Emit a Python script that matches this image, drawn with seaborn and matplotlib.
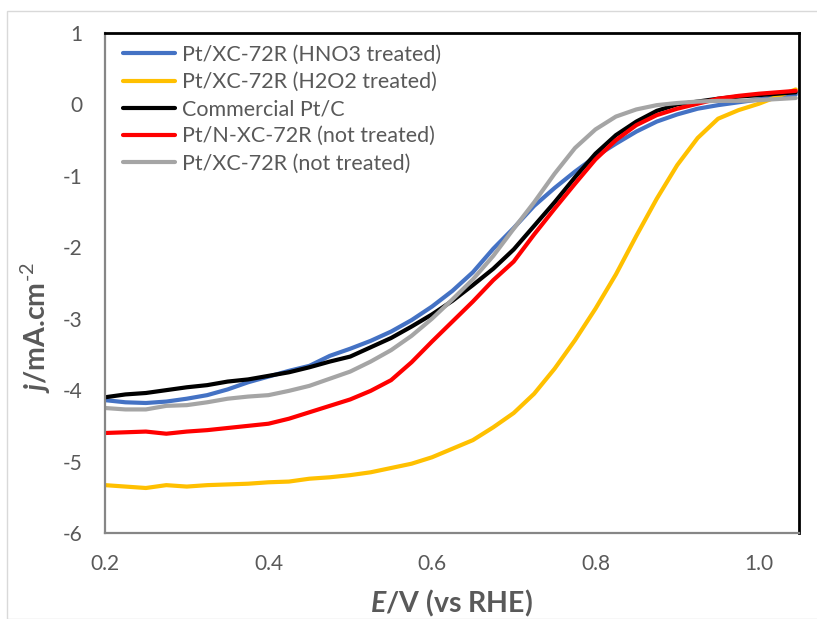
import numpy as np
import pandas as pd
import matplotlib
matplotlib.use("Agg")
import matplotlib.pyplot as plt
from matplotlib.ticker import MultipleLocator, FixedLocator
from matplotlib.patches import Rectangle
import seaborn as sns

# ---------------- data ----------------
E = [0.200, 0.225, 0.250, 0.275, 0.300, 0.325, 0.350, 0.375, 0.400, 0.425,
     0.450, 0.475, 0.500, 0.525, 0.550, 0.575, 0.600, 0.625, 0.650, 0.675,
     0.700, 0.725, 0.750, 0.775, 0.800, 0.825, 0.850, 0.875, 0.900, 0.925,
     0.950, 0.975, 1.000, 1.045]

j_hno3 = [-4.14, -4.17, -4.18, -4.16, -4.12, -4.07, -3.99, -3.89, -3.81, -3.73,
          -3.66, -3.52, -3.42, -3.31, -3.18, -3.02, -2.83, -2.61, -2.35, -2.02,
          -1.73, -1.42, -1.17, -0.94, -0.73, -0.55, -0.38, -0.24, -0.14, -0.06,
          -0.01, 0.03, 0.07, 0.14]

j_h2o2 = [-5.33, -5.35, -5.37, -5.33, -5.35, -5.33, -5.32, -5.31, -5.29, -5.28,
          -5.24, -5.22, -5.19, -5.15, -5.09, -5.03, -4.94, -4.82, -4.70, -4.52,
          -4.32, -4.05, -3.70, -3.30, -2.86, -2.38, -1.84, -1.32, -0.85, -0.47,
          -0.20, -0.08, 0.01, 0.21]

j_comm = [-4.10, -4.06, -4.04, -4.00, -3.96, -3.93, -3.88, -3.85, -3.80, -3.75,
          -3.68, -3.60, -3.53, -3.40, -3.27, -3.11, -2.94, -2.75, -2.53, -2.30,
          -2.03, -1.70, -1.37, -1.02, -0.69, -0.43, -0.24, -0.09, 0.00, 0.04,
          0.08, 0.11, 0.13, 0.17]

j_nxc = [-4.60, -4.59, -4.58, -4.61, -4.58, -4.56, -4.53, -4.50, -4.47, -4.40,
         -4.31, -4.22, -4.13, -4.01, -3.86, -3.61, -3.32, -3.04, -2.76, -2.46,
         -2.20, -1.82, -1.46, -1.11, -0.77, -0.50, -0.29, -0.15, -0.06, 0.01,
         0.08, 0.12, 0.15, 0.19]

j_xc = [-4.25, -4.27, -4.27, -4.22, -4.21, -4.17, -4.12, -4.09, -4.07, -4.01,
        -3.94, -3.84, -3.74, -3.60, -3.44, -3.24, -3.00, -2.73, -2.45, -2.12,
        -1.74, -1.37, -0.97, -0.61, -0.35, -0.17, -0.07, -0.01, 0.02, 0.04,
        0.05, 0.05, 0.06, 0.09]

labels = ["Pt/XC-72R (HNO3 treated)", "Pt/XC-72R (H2O2 treated)",
          "Commercial Pt/C", "Pt/N-XC-72R (not treated)",
          "Pt/XC-72R (not treated)"]
series = [j_hno3, j_h2o2, j_comm, j_nxc, j_xc]
colors = ["#4472C4", "#FFC000", "#000000", "#FF0000", "#A5A5A5"]

x_ticks = [0.2, 0.4, 0.6, 0.8, 1.0]
x_tick_labels = ["0.2", "0.4", "0.6", "0.8", "1.0"]
y_ticks = [-6, -5, -4, -3, -2, -1, 0, 1]
y_tick_labels = ["-6", "-5", "-4", "-3", "-2", "-1", "0", "1"]

# ---------------- build long table ----------------
df = pd.concat([pd.DataFrame({"E": E, "j": s, "sample": lab})
                for s, lab in zip(series, labels)], ignore_index=True)

# ---------------- style ----------------
sns.set_theme(style="white")
FONT = "Lato"
plt.rcParams["font.family"] = [FONT, "DejaVu Sans"]
plt.rcParams["mathtext.fontset"] = "custom"
plt.rcParams["mathtext.rm"] = FONT
plt.rcParams["mathtext.it"] = FONT + ":italic"
plt.rcParams["mathtext.bf"] = FONT + ":bold"
try:
    plt.rcParams["mathtext.bfit"] = FONT + ":italic:bold"
except KeyError:
    pass

TXT = "#595959"
W, H = 817, 619
fig = plt.figure(figsize=(W / 100, H / 100), dpi=100)
fig.patch.set_facecolor("white")

# outer chart-area border
fig.patches.append(Rectangle((7 / W, 0), 1.2, (H - 11) / H, transform=fig.transFigure,
                             fill=False, edgecolor="#D9D9D9", linewidth=1.0))

left, right, top, bottom = 105, 799, 33, 533
ax = fig.add_axes([left / W, (H - bottom) / H, (right - left) / W, (bottom - top) / H])

sns.lineplot(data=df, x="E", y="j", hue="sample", hue_order=labels,
             palette=dict(zip(labels, colors)), sort=False, estimator=None,
             linewidth=3.0, ax=ax, legend=False)

ax.set_xlim(0.2, 1.049)
ax.set_ylim(-6, 1)

ax.xaxis.set_major_locator(FixedLocator(x_ticks))
ax.set_xticklabels(x_tick_labels)
ax.xaxis.set_minor_locator(MultipleLocator(0.04))
ax.yaxis.set_major_locator(FixedLocator(y_ticks))
ax.set_yticklabels(y_tick_labels)
ax.yaxis.set_minor_locator(MultipleLocator(0.2))

ax.tick_params(axis="both", which="both", direction="in", color="#868686",
               width=1.2, labelcolor=TXT, labelsize=15)
ax.tick_params(axis="both", which="both", length=5)
ax.tick_params(axis="y", which="major", pad=16)
ax.tick_params(axis="x", which="major", pad=15)

for s in ["top", "right"]:
    ax.spines[s].set_color("black")
    ax.spines[s].set_linewidth(2.0)
for s in ["left", "bottom"]:
    ax.spines[s].set_color("#868686")
    ax.spines[s].set_linewidth(1.6)

ax.set_xlabel(r"$\mathbfit{E}$/V (vs RHE)", fontsize=20.5, fontweight="bold",
              color=TXT, va="center")
ax.xaxis.set_label_coords(0.5, (bottom - 603) / (bottom - top))
ax.set_ylabel(r"$\mathbfit{j}$/mA.cm$^{\text{-2}}$", fontsize=20.5, fontweight="bold",
              color=TXT, va="center")
ax.yaxis.set_label_coords((36 - left) / (right - left), (bottom - 327) / (bottom - top))

handles = ax.get_lines()[:len(labels)]
leg = ax.legend(handles, labels, loc="upper left",
                bbox_to_anchor=(9.4 / (right - left), 1 - 3.4 / (bottom - top)),
                frameon=False, fontsize=15.5, handlelength=2.4, handletextpad=0.33,
                labelspacing=0.33, borderaxespad=0.0, borderpad=0.4)
for t in leg.get_texts():
    t.set_color(TXT)

fig.savefig("out.png", dpi=100, facecolor="white")
